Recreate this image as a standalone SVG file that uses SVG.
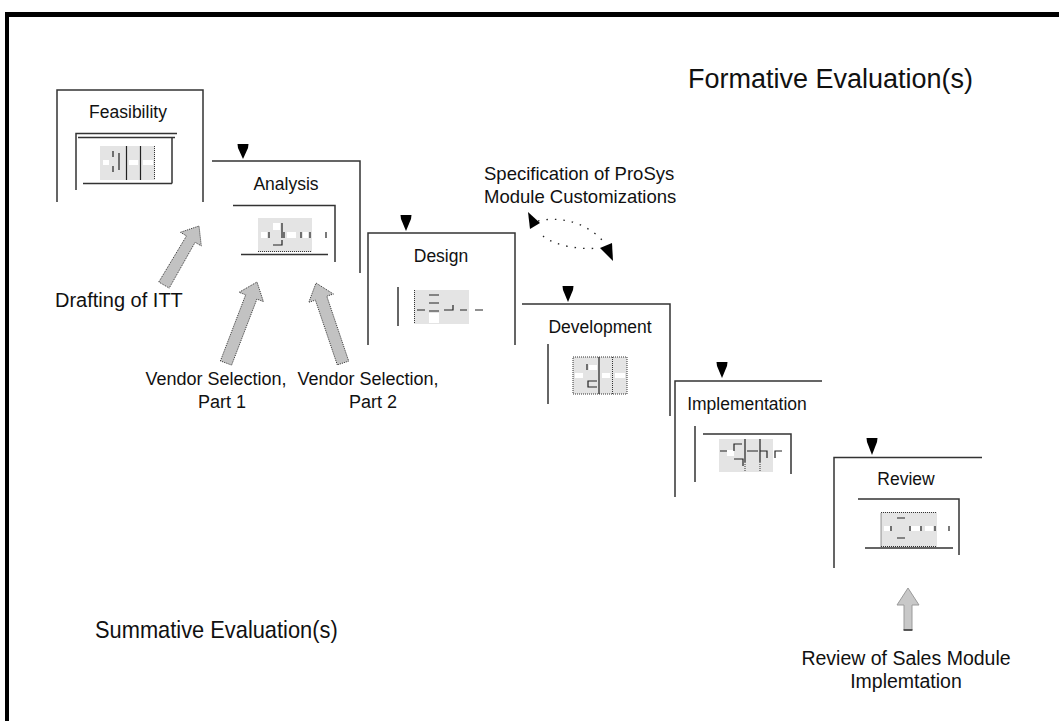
<svg xmlns="http://www.w3.org/2000/svg" width="1059" height="721" viewBox="0 0 1059 721">
<style>
.t{font-family:"Liberation Sans",Arial,sans-serif;fill:#111}
.ttl{font-size:17.5px;text-anchor:middle}
.lbl{font-size:18px}
.ln{stroke:#333;stroke-width:1.5;fill:none}
.ic{fill:#e4e4e4}
.wh{fill:#fff}
.bk{stroke:#222;stroke-width:1.2;fill:none}
.dot{stroke:#333;stroke-width:1;stroke-dasharray:1 1;fill:none}
.mk{fill:#000}
.fat{fill:#c2c2c2;stroke:#333;stroke-width:1;stroke-dasharray:1 1}
</style>
<rect x="0" y="0" width="1059" height="721" fill="#fff"/>
<path d="M5 14.5 H1059" stroke="#000" stroke-width="5" fill="none"/>
<path d="M7 12 V721" stroke="#000" stroke-width="4" fill="none"/>

<g id="feasibility">
<path class="ln" d="M57 202 V90 H203 V202"/>
<text class="t ttl" x="128" y="118">Feasibility</text>
<path class="ln" d="M76 190 V133.5 H177 M78 137.5 H175 M172 137.5 V183.5 M83 183.5 H172"/>
<rect class="ic" x="100" y="146" width="55" height="34"/>
<rect class="wh" x="103" y="160" width="6" height="5"/>
<rect class="wh" x="129" y="160" width="9" height="5"/>
<rect class="wh" x="143" y="160" width="10" height="5"/>
<path class="bk" d="M126.5 146 V180 M140.5 146 V180 M113 151 V157 M113 166 V172 M119 153 V170"/>
<path class="dot" d="M154.5 146 V180"/>
</g>

<g id="analysis">
<polygon class="mk" points="237.5,144 248.5,144 248,148 243,159 238,148"/>
<path class="ln" d="M212 161 H360 V273"/>
<text class="t ttl" x="286" y="190">Analysis</text>
<path class="ln" d="M233 205.5 H335 V262 M241 254.5 H328"/>
<rect class="ic" x="258" y="218" width="54" height="34"/>
<rect class="wh" x="273" y="223" width="7" height="7"/>
<rect class="wh" x="261" y="232" width="6" height="6"/>
<rect class="wh" x="287" y="232" width="9" height="6"/>
<rect class="wh" x="303" y="232" width="5" height="6"/>
<path class="bk" d="M269 232 V238 M282 223 V238 M273 245 H282 V240 M284 232 V238 M301 232 V238 M310 232 V238 M326 232 V238"/>
<path class="dot" d="M258 251.5 H312"/>
</g>

<g id="design">
<polygon class="mk" points="400.5,215 411.5,215 411,219 406,231 401,219"/>
<path class="ln" d="M368 345 V233 H515 V345"/>
<text class="t ttl" x="441" y="262">Design</text>
<path class="ln" d="M398 287 V326"/>
<rect class="ic" x="414" y="290" width="55" height="34"/>
<rect class="wh" x="429" y="313" width="10" height="10"/>
<path class="dot" d="M414.5 290 V324"/>
<path class="bk" d="M429 295 H439 M429 303 H439 M429 311 H439 M417 310 H425 M444 310 H453 V305 M460 310 H467 M475 310 H483"/>
</g>

<g id="development">
<polygon class="mk" points="562.5,286 573.5,286 573,290 568,302 563,290"/>
<path class="ln" d="M522 304 H670 V416"/>
<text class="t ttl" x="600" y="333">Development</text>
<path class="ln" d="M548 344 V404"/>
<rect class="ic" x="573" y="357" width="54" height="37"/>
<rect class="wh" x="575" y="373" width="8" height="5"/>
<rect class="wh" x="589" y="365" width="8" height="5"/>
<rect class="wh" x="602" y="373" width="8" height="5"/>
<rect class="wh" x="615" y="373" width="10" height="5"/>
<path class="dot" d="M573 357 H627 V394 H573 Z M612.5 357 V394"/>
<path class="bk" d="M599 357 V394 M587 364 V370 M597 381 H588 V387 H597"/>
</g>

<g id="implementation">
<polygon class="mk" points="716.5,362 727.5,362 727,366 722,378 717,366"/>
<path class="ln" d="M675 497 V381 H822"/>
<text class="t ttl" x="747" y="410">Implementation</text>
<path class="ln" d="M695 426 V482 M703 434 H791 V474"/>
<rect class="ic" x="719" y="439" width="54" height="33"/>
<rect class="wh" x="727" y="450" width="7" height="6"/>
<path class="bk" d="M720 451 H727 M734 451 V444 H742 M734 459 H743 V466 M745 439 V462 M760 439 V462 M747 451 H758 M760 451 H767 V458 M775 458 V451 H782"/>
<path class="dot" d="M745 462 V472 M760 462 V472"/>
</g>

<g id="review">
<polygon class="mk" points="866.5,438 877.5,438 877,442 872,455 867,442"/>
<path class="ln" d="M834 568 V457.5 H982"/>
<text class="t ttl" x="906" y="485">Review</text>
<path class="ln" d="M858 499 H959 V555 M865 548 H953"/>
<rect class="ic" x="881" y="512" width="56" height="35"/>
<rect class="wh" x="884" y="526" width="6" height="5"/>
<rect class="wh" x="911" y="526" width="9" height="5"/>
<rect class="wh" x="925" y="526" width="8" height="5"/>
<path class="dot" d="M881 546.5 V512.5 H937 M881 546.5 H937"/>
<path class="bk" d="M897 518 H905 M897 538 H905 M910 526 V531 M921 526 V531 M935 526 V531 M949 526 V531 M891 526 V531"/>
</g>

<g id="labels">
<text class="t" font-size="27" x="688" y="88">Formative Evaluation(s)</text>
<text class="t" font-size="24" transform="translate(95 638) scale(0.91 1)">Summative Evaluation(s)</text>
<text class="t" font-size="18.5" x="484" y="180">Specification of ProSys</text>
<text class="t" font-size="18.5" x="484" y="203">Module Customizations</text>
<text class="t" font-size="20" x="55" y="307">Drafting of ITT</text>
<text class="t lbl" x="216" y="385" text-anchor="middle">Vendor Selection,</text>
<text class="t lbl" x="222" y="408" text-anchor="middle">Part 1</text>
<text class="t lbl" x="368" y="385" text-anchor="middle">Vendor Selection,</text>
<text class="t lbl" x="373" y="408" text-anchor="middle">Part 2</text>
<text class="t" font-size="19.5" x="906" y="665" text-anchor="middle">Review of Sales Module</text>
<text class="t" font-size="19.5" x="906" y="688" text-anchor="middle">Implemtation</text>
</g>

<g id="connectors">
<polygon class="fat" points="158.8,282 186.5,235.9 180.4,232.3 199,226 201.3,245.9 195.1,242.3 169.2,288.1"/>
<polygon class="fat" points="220.4,360.9 245.7,294.8 239.1,292.3 257,282 263.4,301.6 256.9,299.1 231.6,365.1"/>
<polygon class="fat" points="337.3,364.9 315.4,300.1 308.8,302.3 316,283 333.4,294.0 326.8,296.2 348.7,361.1"/>
<polygon points="908,588 919,605 912,605 912,630 904,630 904,605 897,605" fill="#c8c8c8" stroke="#9a9a9a" stroke-width="1"/>
<path d="M903.5 630 H912.5" stroke="#333" stroke-width="1.5"/>
<path d="M538 221 C560 216 585 222 602 240 M543 236 C555 246 580 250 600 248" stroke="#222" stroke-width="1.3" stroke-dasharray="1.5 7" fill="none"/>
<polygon class="mk" points="528,212 530,229 540,223"/>
<polygon class="mk" points="613,261 600,248 612,243"/>
</g>
</svg>
